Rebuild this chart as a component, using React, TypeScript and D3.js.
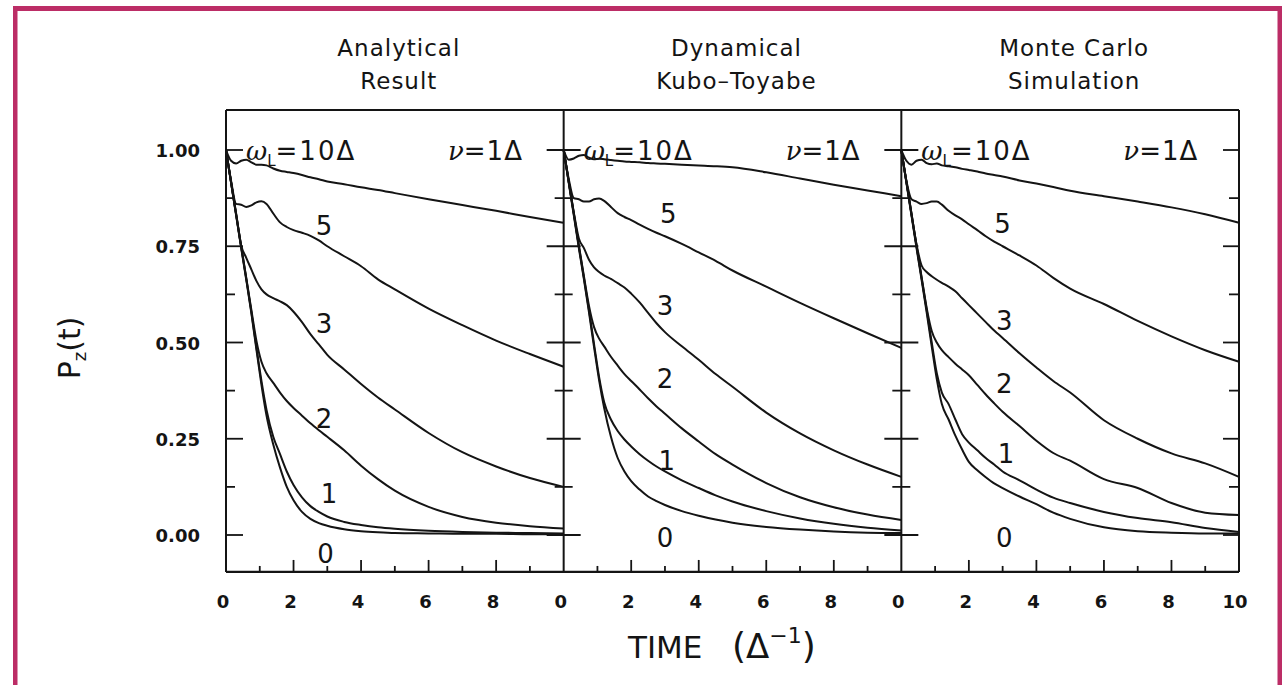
import React from 'react';
import * as d3 from 'd3';

// time grid in units of 1/Delta, shared by every curve
const TIME = [0, 0.15, 0.3, 0.45, 0.6, 0.75, 0.9, 1.05, 1.2, 1.4, 1.6, 1.8, 2, 2.25, 2.5, 2.75, 3, 3.5, 4, 4.5, 5, 6, 7, 8, 9, 10];

// Analytical result, nu = 1 Delta, one array per omega_L
const AN_W10 = [1, 0.972, 0.965, 0.972, 0.975, 0.968, 0.962, 0.962, 0.96, 0.952, 0.946, 0.943, 0.94, 0.935, 0.929, 0.924, 0.918, 0.911, 0.903, 0.896, 0.888, 0.872, 0.857, 0.842, 0.826, 0.811];
const AN_W5 = [1, 0.92, 0.86, 0.858, 0.852, 0.856, 0.864, 0.867, 0.86, 0.835, 0.812, 0.8, 0.792, 0.785, 0.777, 0.765, 0.75, 0.724, 0.698, 0.664, 0.638, 0.588, 0.545, 0.505, 0.47, 0.437];
const AN_W3 = [1, 0.917, 0.835, 0.752, 0.72, 0.69, 0.66, 0.638, 0.625, 0.615, 0.607, 0.597, 0.58, 0.553, 0.522, 0.495, 0.468, 0.43, 0.392, 0.357, 0.326, 0.265, 0.215, 0.178, 0.148, 0.125];
const AN_W2 = [1, 0.916, 0.833, 0.75, 0.668, 0.585, 0.505, 0.45, 0.42, 0.395, 0.37, 0.348, 0.33, 0.31, 0.29, 0.272, 0.255, 0.22, 0.18, 0.145, 0.115, 0.073, 0.047, 0.032, 0.023, 0.017];
const AN_W1 = [1, 0.916, 0.832, 0.748, 0.666, 0.58, 0.488, 0.4, 0.325, 0.255, 0.21, 0.165, 0.13, 0.098, 0.075, 0.06, 0.048, 0.034, 0.026, 0.02, 0.016, 0.011, 0.008, 0.006, 0.005, 0.004];
const AN_W0 = [1, 0.915, 0.83, 0.745, 0.663, 0.577, 0.482, 0.39, 0.31, 0.235, 0.175, 0.125, 0.09, 0.06, 0.042, 0.031, 0.024, 0.015, 0.01, 0.007, 0.005, 0.004, 0.003, 0.003, 0.002, 0.002];

// Dynamical Kubo-Toyabe
const KT_W10 = [1, 0.975, 0.978, 0.985, 0.987, 0.98, 0.976, 0.977, 0.976, 0.974, 0.972, 0.97, 0.969, 0.968, 0.966, 0.965, 0.964, 0.962, 0.96, 0.958, 0.955, 0.942, 0.926, 0.91, 0.895, 0.88];
const KT_W5 = [1, 0.925, 0.875, 0.872, 0.866, 0.866, 0.872, 0.874, 0.868, 0.852, 0.836, 0.826, 0.818, 0.806, 0.795, 0.785, 0.776, 0.756, 0.734, 0.712, 0.687, 0.645, 0.603, 0.563, 0.524, 0.486];
const KT_W3 = [1, 0.918, 0.838, 0.77, 0.745, 0.715, 0.695, 0.683, 0.674, 0.665, 0.654, 0.643, 0.627, 0.604, 0.577, 0.55, 0.527, 0.49, 0.455, 0.418, 0.385, 0.318, 0.264, 0.22, 0.183, 0.151];
const KT_W2 = [1, 0.918, 0.836, 0.752, 0.672, 0.595, 0.54, 0.51, 0.49, 0.463, 0.44, 0.418, 0.4, 0.378, 0.355, 0.334, 0.315, 0.277, 0.243, 0.21, 0.183, 0.135, 0.098, 0.072, 0.053, 0.039];
const KT_W1 = [1, 0.917, 0.834, 0.75, 0.668, 0.584, 0.496, 0.41, 0.345, 0.3, 0.27, 0.248, 0.23, 0.21, 0.193, 0.178, 0.165, 0.142, 0.122, 0.103, 0.087, 0.062, 0.043, 0.029, 0.019, 0.012];
const KT_W0 = [1, 0.915, 0.83, 0.745, 0.664, 0.578, 0.488, 0.402, 0.33, 0.255, 0.2, 0.165, 0.14, 0.118, 0.1, 0.088, 0.078, 0.062, 0.05, 0.04, 0.032, 0.021, 0.014, 0.009, 0.006, 0.005];

// Monte Carlo simulation
const MC_W10 = [1, 0.972, 0.962, 0.972, 0.975, 0.966, 0.963, 0.965, 0.96, 0.958, 0.955, 0.951, 0.948, 0.944, 0.939, 0.935, 0.931, 0.921, 0.913, 0.904, 0.894, 0.88, 0.866, 0.851, 0.833, 0.811];
const MC_W5 = [1, 0.92, 0.872, 0.866, 0.86, 0.862, 0.866, 0.866, 0.858, 0.842, 0.83, 0.82, 0.807, 0.792, 0.776, 0.762, 0.75, 0.726, 0.7, 0.668, 0.64, 0.6, 0.556, 0.516, 0.48, 0.45];
const MC_W3 = [1, 0.918, 0.835, 0.755, 0.7, 0.683, 0.672, 0.663, 0.655, 0.645, 0.633, 0.615, 0.597, 0.575, 0.553, 0.531, 0.512, 0.472, 0.435, 0.4, 0.37, 0.298, 0.25, 0.212, 0.186, 0.151];
const MC_W2 = [1, 0.918, 0.835, 0.752, 0.67, 0.59, 0.53, 0.5, 0.48, 0.462, 0.445, 0.43, 0.415, 0.39, 0.365, 0.342, 0.32, 0.283, 0.245, 0.213, 0.193, 0.145, 0.122, 0.083, 0.058, 0.052];
const MC_W1 = [1, 0.917, 0.833, 0.75, 0.668, 0.585, 0.5, 0.42, 0.37, 0.34, 0.3, 0.262, 0.24, 0.22, 0.2, 0.183, 0.165, 0.142, 0.118, 0.097, 0.083, 0.06, 0.044, 0.033, 0.018, 0.008];
const MC_W0 = [1, 0.915, 0.83, 0.745, 0.663, 0.578, 0.49, 0.405, 0.34, 0.3, 0.258, 0.222, 0.19, 0.168, 0.15, 0.134, 0.122, 0.1, 0.08, 0.058, 0.042, 0.02, 0.01, 0.006, 0.004, 0.004];

const PANEL_TITLES = [
  ['Analytical', 'Result'],
  ['Dynamical', 'Kubo\u2013Toyabe'],
  ['Monte  Carlo', 'Simulation'],
];
const CURVE_LABELS = ['5', '3', '2', '1', '0'];
const Y_MAJOR = [0, 0.25, 0.5, 0.75, 1];
const Y_MINOR = [0.125, 0.375, 0.625, 0.875];
const X_MAJOR = [2, 4, 6, 8];
const X_MINOR = [1, 3, 5, 7, 9];
const X_LABELS = [0, 2, 4, 6, 8];

const PANELS = [
  { curves: [AN_W10, AN_W5, AN_W3, AN_W2, AN_W1, AN_W0], labelAt: [[2.9, 0.805], [2.9, 0.551], [2.9, 0.304], [3.05, 0.109], [2.95, -0.047]] },
  { curves: [KT_W10, KT_W5, KT_W3, KT_W2, KT_W1, KT_W0], labelAt: [[3.1, 0.836], [3.0, 0.597], [3.0, 0.408], [3.05, 0.195], [3.0, -0.006]] },
  { curves: [MC_W10, MC_W5, MC_W3, MC_W2, MC_W1, MC_W0], labelAt: [[3.0, 0.81], [3.05, 0.558], [3.05, 0.395], [3.1, 0.213], [3.05, -0.006]] },
];

const PLOT_LEFT = 226;
const PLOT_RIGHT = 1239;
const PANEL_W = (PLOT_RIGHT - PLOT_LEFT) / 3;
const SANS = '"DejaVu Sans", sans-serif';
const SERIF = '"DejaVu Serif", serif';
const INK = '#141414';
const FRAME = '#bc2d66';

export default function App() {
  const y = d3.scaleLinear().domain([0, 1]).range([535, 150]);
  const top = y(1.104);
  const bottom = y(-0.096);
  const fmt = d3.format('.2f');

  return (
    <svg width={1282} height={685} style={{ position: 'absolute', left: 0, top: 0, background: '#fff' }}>
      <rect x={0} y={0} width={1282} height={685} fill="#fff" />
      {/* magenta page frame */}
      <rect x={13} y={6} width={1269} height={5} fill={FRAME} />
      <rect x={13} y={6} width={4.5} height={679} fill={FRAME} />
      <rect x={1277.5} y={6} width={4.5} height={679} fill={FRAME} />

      {PANELS.map((p, pi) => {
        const x0 = PLOT_LEFT + pi * PANEL_W;
        const x = d3.scaleLinear().domain([0, 10]).range([x0, x0 + PANEL_W]);
        const line = d3.line<number>()
          .x((_, i) => x(TIME[i]))
          .y((d) => y(d))
          .curve(d3.curveMonotoneX);
        const cx = x(5) + 4;
        const isFirst = pi === 0;
        return (
          <g key={pi}>
            {/* titles */}
            <text x={cx} y={56} textAnchor="middle" fontFamily={SANS} fontSize={23} letterSpacing={1} fill={INK}>{PANEL_TITLES[pi][0]}</text>
            <text x={cx} y={89} textAnchor="middle" fontFamily={SANS} fontSize={23} letterSpacing={1} fill={INK}>{PANEL_TITLES[pi][1]}</text>

            {/* left edge of panel (axis for the first, divider for the others) */}
            <line x1={x0} x2={x0} y1={top} y2={bottom} stroke={INK} strokeWidth={2} />
            {Y_MAJOR.map((v) => (
              <line key={'M' + v} x1={isFirst ? x0 : x0 - 17} x2={x0 + 17} y1={y(v)} y2={y(v)} stroke={INK} strokeWidth={1.8} />
            ))}
            {Y_MINOR.map((v) => (
              <line key={'m' + v} x1={isFirst ? x0 : x0 - 9} x2={x0 + 9} y1={y(v)} y2={y(v)} stroke={INK} strokeWidth={1.8} />
            ))}

            {/* bottom ticks */}
            {X_MAJOR.map((v) => (
              <line key={'xM' + v} x1={x(v)} x2={x(v)} y1={bottom} y2={bottom - 12} stroke={INK} strokeWidth={1.8} />
            ))}
            {X_MINOR.map((v) => (
              <line key={'xm' + v} x1={x(v)} x2={x(v)} y1={bottom} y2={bottom - 6} stroke={INK} strokeWidth={1.8} />
            ))}
            {X_LABELS.map((v) => (
              <text key={'xl' + v} x={x(v) - 3} y={608} textAnchor="middle" fontFamily={SANS} fontWeight="bold" fontSize={18} fill={INK}>{v}</text>
            ))}
            {pi === 2 && (
              <text x={x(10) - 4} y={608} textAnchor="middle" fontFamily={SANS} fontWeight="bold" fontSize={18} fill={INK}>10</text>
            )}

            {/* curves */}
            {p.curves.map((c, ci) => (
              <path key={ci} d={line(c) || ''} fill="none" stroke={INK} strokeWidth={2} strokeLinejoin="round" />
            ))}

            {/* curve labels (omega_L / Delta) */}
            {CURVE_LABELS.map((lab, li) => (
              <text key={lab} x={x(p.labelAt[li][0])} y={y(p.labelAt[li][1]) + 10} textAnchor="middle" fontFamily={SANS} fontSize={26} fill={INK}>{lab}</text>
            ))}

            {/* parameter annotations */}
            <text x={x0 + 20} y={160} fontFamily={SANS} fontSize={26} fill={INK}>
              <tspan fontFamily={SERIF} fontStyle="italic">{'\u03c9'}</tspan>
              <tspan fontSize={15} dy={6}>L</tspan>
              <tspan dy={-6} letterSpacing={2}>{'=10\u0394'}</tspan>
            </text>
            <text x={x0 + 222} y={160} fontFamily={SANS} fontSize={26} fill={INK}>
              <tspan fontFamily={SERIF} fontStyle="italic">{'\u03bd'}</tspan>
              <tspan letterSpacing={1}>{'=1\u0394'}</tspan>
            </text>
          </g>
        );
      })}

      {/* outer box: top, bottom, right edge */}
      <line x1={PLOT_LEFT} x2={PLOT_RIGHT} y1={top} y2={top} stroke={INK} strokeWidth={2} />
      <line x1={PLOT_LEFT} x2={PLOT_RIGHT} y1={bottom} y2={bottom} stroke={INK} strokeWidth={2.2} />
      <line x1={PLOT_RIGHT} x2={PLOT_RIGHT} y1={top} y2={bottom} stroke={INK} strokeWidth={2} />
      {Y_MAJOR.map((v) => (
        <line key={'rM' + v} x1={PLOT_RIGHT - 16} x2={PLOT_RIGHT} y1={y(v)} y2={y(v)} stroke={INK} strokeWidth={1.8} />
      ))}
      {Y_MINOR.map((v) => (
        <line key={'rm' + v} x1={PLOT_RIGHT - 10} x2={PLOT_RIGHT} y1={y(v)} y2={y(v)} stroke={INK} strokeWidth={1.8} />
      ))}

      {/* y tick labels */}
      {Y_MAJOR.map((v) => (
        <text key={'yl' + v} x={200} y={y(v) + 7} textAnchor="end" fontFamily={SANS} fontWeight="bold" fontSize={18} fill={INK}>{fmt(v)}</text>
      ))}

      {/* axis titles */}
      <text transform="translate(80,348) rotate(-90)" textAnchor="middle" fontFamily={SANS} fontSize={30} fill={INK}>
        P<tspan fontSize={18} dy={6}>z</tspan><tspan dy={-6}>(t)</tspan>
      </text>
      <text x={628} y={658} fontFamily={SANS} fontSize={31} fill={INK}>
        TIME{'\u00a0\u00a0\u00a0'}<tspan fontSize={36}>(</tspan><tspan fontSize={34}>{'\u0394'}</tspan><tspan fontSize={22} dy={-15}>{'\u22121'}</tspan><tspan dy={15} fontSize={36}>)</tspan>
      </text>
    </svg>
  );
}
